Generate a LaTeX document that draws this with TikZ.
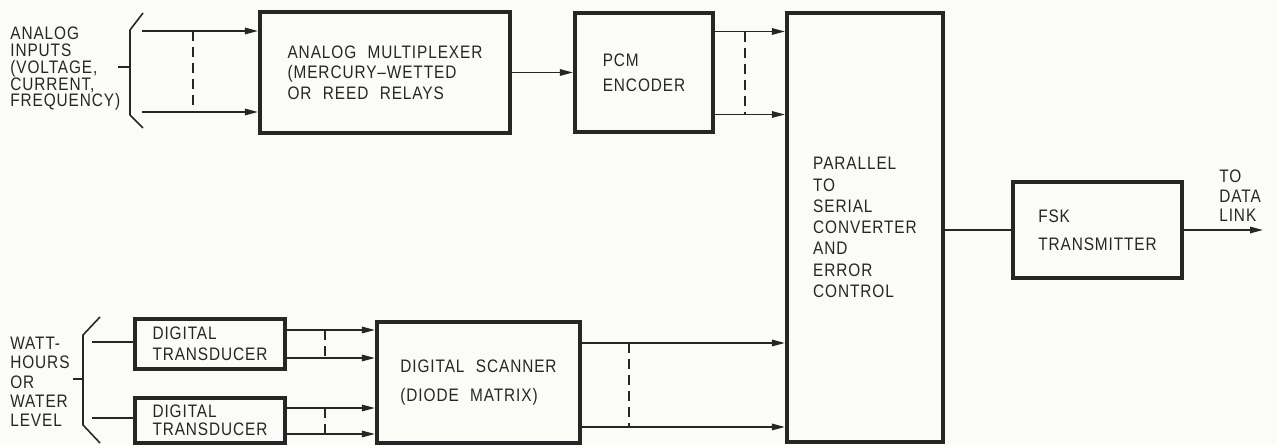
\documentclass[tikz,border=0pt]{standalone}
\usepackage{fontspec}
\setmainfont{Liberation Sans}[FakeStretch=0.85, LetterSpace=5, WordSpace=2.2]
\usepackage{tikz}
\usetikzlibrary{arrows.meta}
\definecolor{ink}{RGB}{38,38,38}
\definecolor{paper}{RGB}{251,251,247}

\tikzset{
  blk/.style={draw=ink, line width=2.4pt, inner sep=0pt, align=left, text=ink},
  lsp/.style={font=\fontsize{10.3}{#1}\selectfont},
  note/.style={inner sep=0pt, align=left, text=ink, anchor=north west},
  wire/.style={draw=ink, line width=0.9pt},
  sig/.style={wire, -{Triangle[length=2.6mm,width=1.3mm]}},
  bus/.style={draw=ink, line width=0.6pt, dash pattern=on 2mm off 1.2mm},
  brc/.style={draw=ink, line width=0.9pt, line join=round}
}

\begin{document}
\begin{tikzpicture}
  \useasboundingbox[fill=paper] (0,0) rectangle (25.54,8.90);
  % Blocks
  \node[blk, lsp=11.6, minimum width=5cm, minimum height=2.42cm] (mux) at (7.70,7.45)
    {ANALOG MULTIPLEXER\\(MERCURY--WETTED\\OR REED RELAYS};
  \node[blk, lsp=14.2, minimum width=2.76cm, minimum height=2.38cm] (pcm) at (12.88,7.45)
    {PCM\\ENCODER};
  \node[blk, lsp=12.1, minimum width=3.12cm, minimum height=8.58cm] (par) at (17.30,4.35)
    {PARALLEL\\TO\\SERIAL\\CONVERTER\\AND\\ERROR\\CONTROL};
  \node[blk, lsp=16.1, minimum width=3.38cm, minimum height=1.92cm] (fsk) at (21.95,4.30)
    {FSK\\TRANSMITTER};
  \node[blk, lsp=11.9, minimum width=3cm, minimum height=1cm] (dig1) at (4.20,2.02)
    {DIGITAL\\TRANSDUCER};
  \node[blk, lsp=10.4, minimum width=3cm, minimum height=0.9cm] (dig2) at (4.20,0.49)
    {DIGITAL\\TRANSDUCER};
  \node[blk, lsp=16.1, minimum width=4.06cm, minimum height=2.42cm] (scan) at (9.57,1.25)
    {DIGITAL SCANNER\\(DIODE MATRIX)};

  % Analog inputs
  \node[note, lsp=9.5] (ain) at (0.20,8.36) {ANALOG\\INPUTS\\(VOLTAGE,\\CURRENT,\\FREQUENCY)};
  \draw[brc] (2.86,8.64) -- (2.60,8.30) -- (2.60,6.60) -- (2.86,6.34);
  \draw[brc] (2.60,7.56) -- (2.36,7.56);
  \coordinate (a1) at (2.84,8.28);
  \coordinate (a2) at (2.84,6.66);
  \draw[sig] (a1) -- (a1 -| mux.west);
  \draw[sig] (a2) -- (a2 -| mux.west);
  \draw[bus] (3.86,8.28) -- (3.86,6.66);
  \draw[sig] (mux.east) -- (pcm.west);

  % PCM words
  \coordinate (p1) at ([yshift=0.82cm]pcm.east);
  \coordinate (p2) at ([yshift=-0.84cm]pcm.east);
  \draw[sig] (p1) -- (p1 -| par.west);
  \draw[sig] (p2) -- (p2 -| par.west);
  \draw[bus] (14.90,8.26) -- (14.90,6.62);

  % Digital inputs
  \node[note, lsp=10.9] (win) at (0.20,2.16) {WATT-\\HOURS\\OR\\WATER\\LEVEL};
  \draw[brc] (2.00,2.56) -- (1.66,2.20) -- (1.66,0.40) -- (2.00,0.04);
  \draw[brc] (1.66,1.32) -- (1.46,1.32);
  \coordinate (w1) at (1.84,2.06);
  \coordinate (w2) at (1.84,0.54);
  \draw[wire] (w1) -- (w1 -| dig1.west);
  \draw[wire] (w2) -- (w2 -| dig2.west);

  % Transducer words
  \coordinate (d1a) at ([yshift=0.28cm]dig1.east);
  \coordinate (d1b) at ([yshift=-0.28cm]dig1.east);
  \coordinate (d2a) at ([yshift=0.25cm]dig2.east);
  \coordinate (d2b) at ([yshift=-0.27cm]dig2.east);
  \draw[sig] (d1a) -- (d1a -| scan.west);
  \draw[sig] (d1b) -- (d1b -| scan.west);
  \draw[sig] (d2a) -- (d2a -| scan.west);
  \draw[sig] (d2b) -- (d2b -| scan.west);
  \draw[bus] (6.50,2.30) -- (6.50,1.74);
  \draw[bus] (6.50,0.74) -- (6.50,0.22);

  % Scanner words
  \coordinate (s1) at ([yshift=0.79cm]scan.east);
  \coordinate (s2) at ([yshift=-0.89cm]scan.east);
  \draw[sig] (s1) -- (s1 -| par.west);
  \draw[sig] (s2) -- (s2 -| par.west);
  \draw[bus] (12.58,2.04) -- (12.58,0.36);

  % Output
  \draw[wire] (par.east |- fsk.west) -- (fsk.west);
  \coordinate (dlink) at (25.26,4.30);
  \draw[sig] (fsk.east) -- (dlink);
  \node[note, lsp=10.9] (dtxt) at (24.38,5.50) {TO\\DATA\\LINK};
\end{tikzpicture}
\end{document}
